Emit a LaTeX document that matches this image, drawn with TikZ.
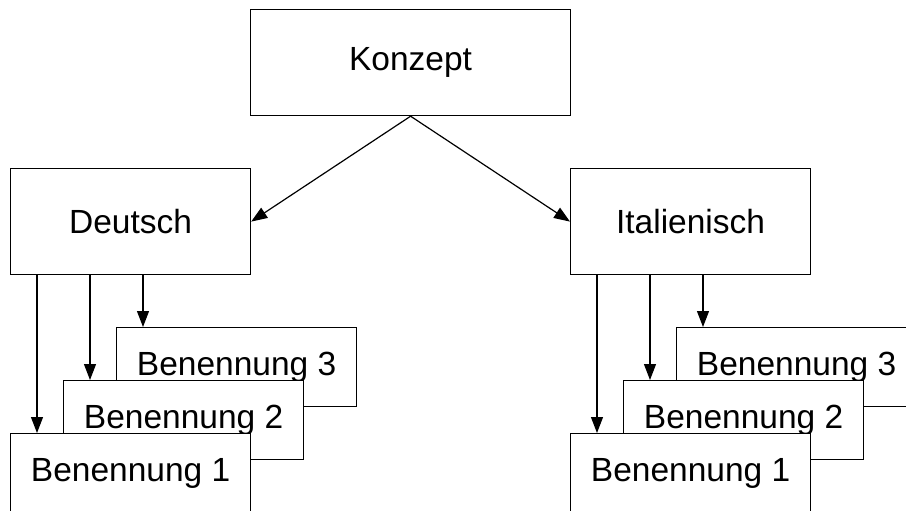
\documentclass[tikz,border=0pt]{standalone}
\usepackage{fontspec}
\setmainfont{Liberation Sans}
\usetikzlibrary{arrows.meta}
\begin{document}
\begin{tikzpicture}[x=1pt,y=-1pt,
  box/.style={draw,fill=white,line width=1.2pt,inner sep=0pt,
    font=\fontsize{33.5}{40}\selectfont,anchor=north west},
  bigbox/.style={box,minimum width=240pt,minimum height=106pt},
  termbox/.style={box,minimum width=240pt,minimum height=79pt},
  link/.style={line width=1.2pt,-{Triangle[length=16pt,width=12pt]}}]
\clip (0,0) rectangle (906,511);
\useasboundingbox (0,0) rectangle (906,511);

% concept and its two languages
\node[bigbox,minimum width=320pt] (k) at (250,9) {Konzept};
\node[bigbox] (d) at (10,168) {Deutsch};
\node[bigbox] (i) at (570,168) {Italienisch};
\draw[link] (k.south) -- (d.east);
\draw[link] (k.south) -- (i.west);

% German terms, stacked
\node[termbox] (d3) at (116,327) {Benennung 3};
\node[termbox] (d2) at (63,380) {Benennung 2};
\node[termbox] (d1) at (10,433) {Benennung 1};
\draw[link] ([xshift=27pt]d1.north west |- d.south) -- ([xshift=27pt]d1.north west);
\draw[link] ([xshift=27pt]d2.north west |- d.south) -- ([xshift=27pt]d2.north west);
\draw[link] ([xshift=27pt]d3.north west |- d.south) -- ([xshift=27pt]d3.north west);

% Italian terms, stacked
\node[termbox] (i3) at (676,327) {Benennung 3};
\node[termbox] (i2) at (623,380) {Benennung 2};
\node[termbox] (i1) at (570,433) {Benennung 1};
\draw[link] ([xshift=27pt]i1.north west |- i.south) -- ([xshift=27pt]i1.north west);
\draw[link] ([xshift=27pt]i2.north west |- i.south) -- ([xshift=27pt]i2.north west);
\draw[link] ([xshift=27pt]i3.north west |- i.south) -- ([xshift=27pt]i3.north west);
\end{tikzpicture}
\end{document}
